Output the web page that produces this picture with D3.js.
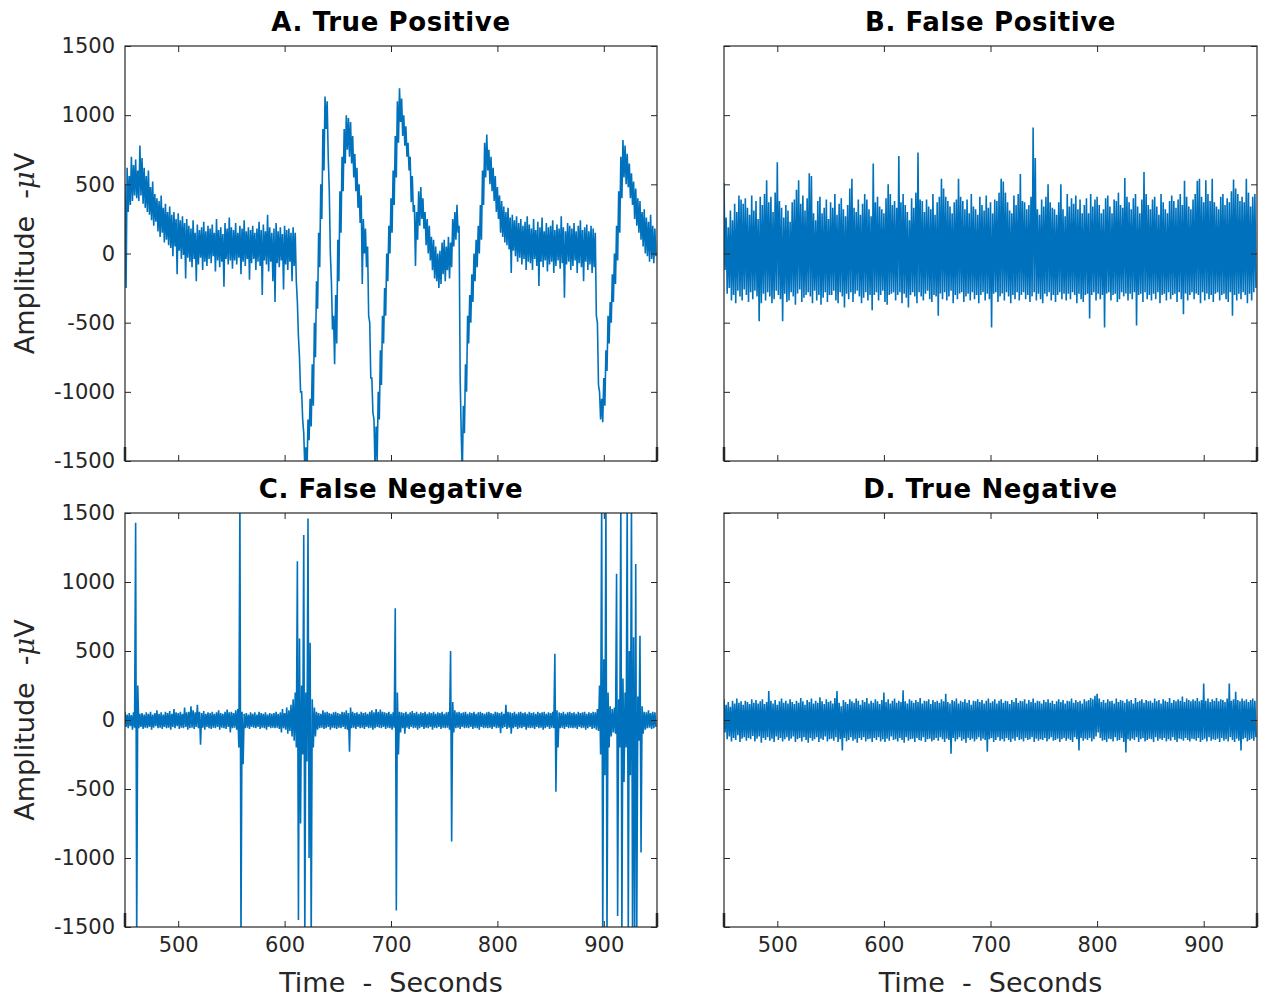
<!DOCTYPE html>
<html>
<head>
<meta charset="utf-8">
<script src="https://cdn.jsdelivr.net/npm/d3@7/dist/d3.min.js"></script>
<style>
  body { margin: 0; background: #fff; }
  svg text { font-family: "DejaVu Sans", sans-serif; }
</style>
</head>
<body>
<svg id="chart" width="1264" height="1000"></svg>
<script>
// recording window and binning: each bin keeps its max (at bin start) and min (half a bin later)
var startSecond = 450,
    endSecond = 950,
    binSeconds = 2;

var xTicks = [500, 600, 700, 800, 900];
var yTicks = [-1500, -1000, -500, 0, 500, 1000, 1500];
var panelTitles = ['A. True Positive', 'B. False Positive', 'C. False Negative', 'D. True Negative'];
var xLabel = 'Time  -  Seconds';

// A. true positive - bin max / min, µV
var tpHigh = [
  500, 620, 560, 700, 640, 680, 600, 780, 690, 620,
  560, 600, 480, 520, 430, 400, 380, 420, 330, 360,
  300, 340, 280, 300, 250, 290, 240, 270, 220, 250,
  200, 180, 240, 150, 210, 170, 190, 230, 160, 200,
  180, 210, 150, 250, 170, 190, 140, 220, 180, 260,
  190, 170, 220, 150, 200, 180, 240, 160, 190, 170,
  200, 150, 180, 230, 170, 210, 160, 280, 190, 150,
  180, 220, 160, 190, 140, 200, 170, 180, 150, 190,
  150, -350, -750, -1000, -1300, -1400, -1200, -1050, -800, -500,
  -200, 150, 500, 900, 1135, 1100, 450, -200, -450, -300,
  100, 450, 700, 900, 1000, 980, 950, 850, 720, 620,
  500, 420, 250, 180, 50, -500, -900, -1200, -1250, -1000,
  -700, -450, -250, 0, 200, 400, 600, 850, 1100, 1195,
  1120, 1000, 920, 800, 700, 560, 350, 300, 450, 480,
  400, 300, 250, 200, 120, 100, 50, 0, 20, 80,
  100, 50, 120, 80, 250, 300, 353, 200, -1300, -1100,
  -800, -450, -300, -150, 0, 100, 200, 350, 600, 800,
  860, 750, 700, 620, 560, 480, 420, 380, 340, 300,
  330, 260, 280, 240, 270, 220, 250, 200, 230, 270,
  210, 180, 250, 170, 230, 190, 260, 160, 220, 190,
  200, 240, 170, 210, 180, 270, 190, 160, 220, 200,
  180, 220, 160, 200, 240, 170, 190, 210, 160, 200,
  180, 150, -500, -1000, -1050, -900, -700, -450, -350, -150,
  0, 200, 450, 700, 820, 780, 720, 650, 580, 520,
  470, 400, 380, 300, 320, 260, 230, 280, 200, 180
];
var tpLow = [
  -250, 300, 350, 380, 420, 400, 380, 420, 360, 330,
  300, 280, 240, 200, 230, 160, 120, 150, 80, 100,
  60, 40, -20, 50, -150, 20, -40, -10, -180, -30,
  -60, -100, -40, -200, -80, -30, -120, -60, -90, -40,
  -70, -20, -130, -50, -100, -60, -240, -40, -80, -50,
  -110, -50, -80, -30, -150, -60, -90, -40, -190, -70,
  -40, -120, -60, -90, -300, -50, -80, -130, -60, -200,
  -350, -70, -100, -50, -260, -80, -120, -60, -200, -90,
  -200, -600, -1000, -1200, -1550, -1600, -1350, -1250, -1100, -750,
  -400, -100, 250, 600, 900, 700, 0, -550, -800, -650,
  -200, 150, 450, 650, 750, 700, 650, 550, 450, 330,
  220, -220, 0, -100, -450, -900, -1150, -1550, -1500, -1200,
  -950, -650, -450, -200, 0, 150, 350, 550, 800, 950,
  850, 780, 700, 600, 370, 300, -90, 100, 200, 250,
  180, 60, 0, -50, -120, -180, -200, -250, -220, -150,
  -200, -120, -180, -100, 50, 100, 150, -900, -1600, -1300,
  -1000, -650, -500, -350, -200, -100, 0, 100, 350, 550,
  600, 500, 450, 380, 300, 250, 150, 120, 80, 60,
  30, -140, 20, -20, -60, -30, -80, -40, -120, -60,
  -70, -120, -40, -90, -235, -60, -100, -50, -130, -80,
  -60, -140, -90, -50, -110, -70, -320, -80, -60, -120,
  -90, -50, -140, -70, -100, -200, -60, -120, -80, -140,
  -100, -450, -950, -1200, -1220, -1100, -850, -650, -500, -350,
  -220, -50, 150, 400, 550, 500, 480, 400, 350, 250,
  200, 150, 100, 50, 0, -20, -60, -40, -70, -20
];

// B. false positive
var fpHigh = [
  510, 260, 190, 310, 240, 360, 300, 420, 390, 360,
  400, 330, 280, 420, 310, 380, 250, 410, 350, 430,
  530, 370, 410, 300, 440, 660, 380, 330, 260, 350,
  310, 230, 370, 390, 460, 530, 360, 420, 310, 400,
  580, 560, 290, 240, 380, 410, 290, 330, 390, 250,
  370, 330, 430, 280, 360, 400, 320, 270, 350, 470,
  540, 330, 300, 390, 280, 360, 430, 390, 320, 270,
  650, 370, 410, 340, 320, 290, 400, 500, 430, 350,
  380, 330, 705, 370, 430, 350, 300, 240, 400, 330,
  440, 730, 390, 380, 300, 390, 340, 320, 430, 280,
  370, 410, 540, 470, 410, 380, 340, 290, 370, 390,
  540, 410, 380, 320, 390, 290, 430, 340, 320, 280,
  410, 350, 310, 420, 330, 370, 290, 390, 380, 440,
  540, 520, 440, 370, 310, 290, 420, 350, 430, 575,
  380, 370, 320, 350, 410, 910, 690, 320, 280, 390,
  340, 410, 500, 370, 330, 320, 280, 370, 500, 320,
  270, 430, 340, 400, 360, 420, 320, 390, 290, 350,
  400, 290, 430, 340, 390, 410, 350, 290, 320, 400,
  420, 340, 290, 390, 380, 440, 350, 330, 545, 410,
  370, 320, 400, 430, 340, 290, 390, 590, 430, 350,
  320, 390, 410, 340, 280, 430, 370, 320, 290, 380,
  420, 380, 330, 390, 430, 350, 525, 410, 340, 320,
  390, 430, 525, 540, 410, 370, 530, 430, 380, 540,
  370, 340, 320, 410, 430, 350, 400, 370, 450, 535,
  470, 430, 380, 410, 370, 540, 440, 340, 410, 430
];
var fpLow = [
  -120, -290, -250, -340, -300, -360, -270, -310, -340, -260,
  -300, -350, -280, -330, -270, -310, -490, -360, -290, -340,
  -280, -310, -360, -330, -270, -300, -330, -490, -290, -350,
  -340, -280, -310, -370, -290, -260, -350, -320, -300, -280,
  -310, -360, -270, -340, -300, -370, -320, -280, -350, -300,
  -300, -270, -340, -360, -280, -310, -390, -290, -330, -280,
  -350, -290, -270, -310, -360, -320, -280, -340, -300, -410,
  -300, -280, -340, -300, -270, -350, -370, -300, -290, -280,
  -340, -300, -280, -360, -290, -320, -390, -300, -280, -310,
  -360, -280, -310, -340, -290, -270, -330, -350, -300, -310,
  -450, -290, -330, -280, -340, -310, -270, -360, -300, -330,
  -290, -280, -350, -310, -290, -340, -280, -330, -300, -360,
  -300, -280, -340, -290, -330, -535, -290, -280, -350, -310,
  -290, -340, -280, -310, -360, -300, -330, -280, -340, -300,
  -280, -330, -300, -350, -310, -280, -340, -290, -330, -360,
  -290, -310, -280, -340, -300, -350, -300, -280, -330, -290,
  -340, -290, -330, -280, -300, -360, -290, -330, -350, -300,
  -290, -470, -300, -280, -340, -290, -330, -300, -535, -290,
  -280, -340, -300, -290, -350, -330, -280, -310, -290, -340,
  -290, -330, -280, -520, -300, -290, -350, -280, -330, -300,
  -340, -290, -330, -280, -360, -300, -290, -340, -280, -330,
  -300, -290, -350, -280, -330, -440, -290, -340, -300, -280,
  -330, -290, -300, -360, -280, -340, -290, -330, -300, -350,
  -290, -280, -340, -300, -290, -330, -350, -280, -450, -300,
  -340, -290, -330, -280, -300, -360, -290, -340, -280, -250
];

// C. false negative
var fnHigh = [
  60, 40, 50, 35, 55, 1430, 250, 45, 50, 40,
  55, 45, 60, 40, 50, 70, 45, 55, 40, 60,
  50, 65, 45, 80, 55, 50, 60, 45, 90, 55,
  60, 100, 70, 55, 110, 60, 50, 65, 45, 55,
  50, 60, 45, 55, 70, 50, 45, 60, 75, 55,
  60, 50, 70, 80, 1600, 60, 45, 50, 40, 55,
  45, 55, 40, 60, 50, 45, 55, 40, 50, 45,
  50, 60, 45, 55, 80, 50, 90, 70, 110, 150,
  200, 1150, 590, 250, 1340, 200, 1460, 560, 150, 90,
  60, 50, 45, 70, 55, 60, 50, 45, 55, 60,
  50, 45, 60, 55, 70, 50, 90, 60, 50, 55,
  45, 60, 50, 55, 45, 60, 70, 55, 80, 60,
  75, 60, 55, 50, 60, 45, 55, 810, 200, 60,
  55, 50, 60, 45, 55, 65, 50, 60, 45, 55,
  50, 60, 45, 55, 50, 60, 45, 55, 50, 60,
  45, 55, 60, 500, 130, 70, 55, 60, 50, 55,
  60, 45, 55, 50, 60, 45, 55, 60, 50, 45,
  55, 60, 50, 45, 60, 55, 50, 60, 45, 110,
  60, 55, 50, 60, 45, 55, 60, 50, 55, 45,
  60, 50, 55, 45, 60, 50, 55, 60, 45, 55,
  50, 60, 480, 70, 55, 50, 60, 45, 55, 60,
  50, 55, 45, 60, 50, 55, 60, 45, 55, 50,
  60, 55, 80, 250, 1600, 440, 1600, 200, 100, 80,
  90, 1060, 150, 1600, 300, 200, 1600, 500, 1600, 600,
  1130, 170, 610, 100, 60, 55, 70, 50, 60, 55
];
var fnLow = [
  -50, -60, -45, -70, -55, -1600, -60, -50, -65, -55,
  -60, -50, -70, -55, -45, -60, -55, -65, -50, -60,
  -55, -70, -50, -60, -45, -65, -55, -60, -50, -70,
  -60, -55, -65, -50, -60, -180, -55, -70, -50, -60,
  -65, -55, -60, -50, -70, -55, -60, -65, -50, -90,
  -60, -55, -70, -200, -1600, -320, -60, -55, -65, -50,
  -55, -60, -50, -65, -55, -60, -70, -50, -60, -55,
  -60, -55, -65, -90, -60, -70, -100, -80, -120, -150,
  -200, -1450, -750, -250, -1600, -300, -1000, -1600, -200, -120,
  -70, -60, -55, -65, -60, -50, -70, -55, -60, -65,
  -55, -60, -50, -65, -70, -230, -60, -55, -65, -50,
  -60, -55, -65, -50, -60, -55, -70, -60, -50, -55,
  -60, -50, -65, -55, -60, -70, -55, -1380, -250, -90,
  -60, -100, -55, -65, -50, -60, -55, -70, -60, -50,
  -65, -55, -60, -50, -70, -55, -60, -50, -65, -55,
  -60, -55, -70, -880, -90, -60, -55, -65, -50, -60,
  -55, -60, -50, -65, -55, -60, -70, -50, -60, -55,
  -60, -55, -65, -50, -60, -55, -95, -60, -50, -65,
  -55, -100, -60, -50, -65, -55, -60, -50, -70, -55,
  -60, -55, -65, -50, -60, -55, -70, -60, -50, -65,
  -55, -60, -520, -200, -60, -55, -65, -50, -60, -55,
  -60, -55, -65, -50, -60, -55, -70, -60, -50, -65,
  -60, -70, -80, -250, -1600, -400, -1600, -200, -120, -90,
  -100, -1420, -200, -1600, -450, -200, -1600, -400, -1600, -1600,
  -1500, -150, -960, -100, -70, -60, -55, -65, -60, -50
];

// D. true negative
var tnHigh = [
  150, 110, 130, 95, 140, 120, 155, 125, 135, 110,
  140, 130, 115, 150, 125, 145, 120, 135, 150, 115,
  130, 210, 140, 120, 145, 110, 135, 155, 125, 140,
  120, 150, 130, 115, 140, 125, 160, 135, 110, 145,
  130, 155, 120, 140, 125, 165, 135, 115, 150, 130,
  140, 120, 160, 210, 125, 100, 145, 130, 115, 150,
  135, 125, 155, 140, 110, 145, 130, 160, 120, 140,
  125, 150, 135, 115, 145, 200, 130, 150, 120, 140,
  155, 125, 140, 130, 215, 135, 120, 150, 140, 125,
  145, 130, 160, 120, 140, 135, 150, 115, 145, 130,
  140, 125, 150, 135, 190, 130, 120, 145, 135, 155,
  120, 140, 130, 150, 125, 145, 110, 140, 135, 150,
  130, 145, 120, 140, 155, 125, 135, 150, 120, 140,
  150, 125, 140, 135, 115, 145, 130, 160, 125, 140,
  135, 150, 120, 145, 130, 155, 125, 140, 135, 120,
  145, 130, 150, 125, 140, 115, 135, 150, 130, 145,
  120, 140, 135, 155, 125, 145, 130, 140, 120, 150,
  135, 145, 160, 150, 175, 190, 155, 130, 145, 125,
  150, 135, 140, 120, 155, 130, 145, 140, 125, 150,
  135, 145, 120, 160, 130, 140, 150, 125, 145, 135,
  140, 125, 155, 135, 145, 120, 150, 140, 130, 160,
  125, 145, 135, 150, 140, 170, 130, 155, 145, 135,
  150, 140, 160, 135, 145, 265, 140, 155, 130, 150,
  140, 160, 135, 150, 145, 130, 155, 265, 140, 150,
  205, 145, 135, 155, 140, 150, 130, 145, 155, 140
];
var tnLow = [
  -90, -140, -120, -155, -130, -145, -110, -160, -135, -125,
  -150, -130, -140, -115, -155, -135, -120, -165, -130, -145,
  -125, -150, -135, -160, -120, -145, -130, -155, -140, -125,
  -150, -135, -120, -160, -140, -130, -155, -125, -145, -165,
  -130, -150, -140, -125, -160, -135, -145, -120, -155, -140,
  -135, -150, -125, -160, -140, -220, -130, -155, -145, -125,
  -150, -140, -165, -130, -145, -125, -155, -140, -135, -160,
  -130, -145, -125, -155, -140, -160, -135, -150, -120, -145,
  -140, -155, -130, -145, -165, -125, -150, -140, -135, -160,
  -130, -145, -150, -125, -160, -140, -135, -155, -145, -130,
  -150, -125, -140, -160, -135, -145, -245, -130, -155, -140,
  -125, -150, -140, -165, -130, -145, -135, -155, -140, -125,
  -150, -135, -145, -230, -140, -130, -160, -145, -125, -150,
  -140, -155, -130, -145, -160, -135, -150, -125, -145, -140,
  -155, -130, -145, -140, -125, -160, -135, -150, -140, -145,
  -130, -155, -140, -125, -150, -145, -135, -160, -140, -130,
  -150, -135, -145, -160, -125, -140, -220, -130, -150, -135,
  -145, -130, -155, -140, -120, -90, -130, -150, -145, -160,
  -135, -140, -155, -125, -150, -145, -130, -160, -235, -140,
  -150, -135, -145, -125, -160, -140, -130, -155, -145, -135,
  -140, -160, -125, -150, -135, -145, -130, -155, -140, -150,
  -125, -145, -160, -135, -140, -150, -130, -145, -155, -135,
  -140, -150, -130, -160, -145, -135, -155, -125, -150, -140,
  -145, -135, -160, -130, -150, -140, -155, -125, -145, -160,
  -135, -150, -220, -140, -130, -155, -145, -135, -150, -125
];

var axisColor = '#262626',
    lineColor = '#0072BD',
    tickLength = 6;

var panels = [
  { title: panelTitles[0], high: tpHigh, low: tpLow, left: 125, right: 657, top: 46, bottom: 461, yLabels: true,  xLabels: false },
  { title: panelTitles[1], high: fpHigh, low: fpLow, left: 724, right: 1257, top: 46, bottom: 461, yLabels: false, xLabels: false },
  { title: panelTitles[2], high: fnHigh, low: fnLow, left: 125, right: 657, top: 513, bottom: 927, yLabels: true,  xLabels: true },
  { title: panelTitles[3], high: tnHigh, low: tnLow, left: 724, right: 1257, top: 513, bottom: 927, yLabels: false, xLabels: true }
];

var svg = d3.select('#chart');
var defs = svg.append('defs');
var plainNumber = function(d) { return String(d); };   // hyphen minus, no thousands comma

panels.forEach(drawPanel);

function drawPanel(p, idx) {
  var x = d3.scaleLinear().domain([startSecond, endSecond]).range([p.left, p.right]),
      y = d3.scaleLinear().domain([yTicks[0], yTicks[yTicks.length - 1]]).range([p.bottom, p.top]),
      g = svg.append('g').attr('class', 'panel');

  defs.append('clipPath')
      .attr('id', 'clip' + idx)
    .append('rect')
      .attr('x', p.left)
      .attr('y', p.top)
      .attr('width', p.right - p.left)
      .attr('height', p.bottom - p.top);

  // interleave max / min of each bin into one trace
  var samples = [];
  p.high.forEach(function(h, i) {
    var t = startSecond + i * binSeconds;
    samples.push([t, h]);
    samples.push([t + binSeconds / 2, p.low[i]]);
  });

  var line = d3.line()
      .x(function(d) { return x(d[0]); })
      .y(function(d) { return y(d[1]); });

  g.append('path')
      .attr('clip-path', 'url(#clip' + idx + ')')
      .attr('d', line(samples))
      .attr('fill', 'none')
      .attr('stroke', lineColor)
      .attr('stroke-width', 1.6)
      .attr('stroke-linejoin', 'miter')
      .attr('stroke-miterlimit', 2);

  // axes, ticks pointing inwards on all four sides
  var bottomAxis = d3.axisBottom(x).tickValues(xTicks).tickSizeInner(-tickLength).tickSizeOuter(0).tickPadding(10).tickFormat(plainNumber),
      topAxis = d3.axisTop(x).tickValues(xTicks).tickSizeInner(-tickLength).tickSizeOuter(0).tickFormat(''),
      leftAxis = d3.axisLeft(y).tickValues(yTicks).tickSizeInner(-tickLength).tickSizeOuter(0).tickPadding(10).tickFormat(plainNumber),
      rightAxis = d3.axisRight(y).tickValues(yTicks).tickSizeInner(-tickLength).tickSizeOuter(0).tickFormat('');

  if (!p.xLabels) bottomAxis.tickFormat('');
  if (!p.yLabels) leftAxis.tickFormat('');

  var axes = [
    g.append('g').attr('transform', 'translate(0,' + p.bottom + ')').call(bottomAxis),
    g.append('g').attr('transform', 'translate(0,' + p.top + ')').call(topAxis),
    g.append('g').attr('transform', 'translate(' + p.left + ',0)').call(leftAxis),
    g.append('g').attr('transform', 'translate(' + p.right + ',0)').call(rightAxis)
  ];
  axes.forEach(function(a) {
    a.select('.domain').remove();
    a.selectAll('.tick line').attr('stroke', axisColor).attr('stroke-width', 1);
    a.selectAll('.tick text')
        .attr('fill', axisColor)
        .style('font-size', '21px')
        .style('font-family', '"DejaVu Sans", sans-serif');
  });

  g.append('rect')
      .attr('x', p.left)
      .attr('y', p.top)
      .attr('width', p.right - p.left)
      .attr('height', p.bottom - p.top)
      .attr('fill', 'none')
      .attr('stroke', axisColor)
      .attr('stroke-width', 1.2);

  // small heavy marks at the lower corners
  [p.left, p.right].forEach(function(cx) {
    g.append('line')
        .attr('x1', cx).attr('x2', cx)
        .attr('y1', p.bottom - 14).attr('y2', p.bottom)
        .attr('stroke', axisColor)
        .attr('stroke-width', 2.5);
  });

  g.append('text')
      .attr('x', (p.left + p.right) / 2)
      .attr('y', p.top - 15)
      .attr('text-anchor', 'middle')
      .style('font-size', '26px')
      .style('font-weight', 'bold')
      .style('letter-spacing', '0.6px')
      .attr('fill', '#000')
      .text(p.title);

  if (p.yLabels) {
    var yl = g.append('text')
        .attr('transform', 'translate(34,' + (p.top + p.bottom) / 2 + ') rotate(-90)')
        .attr('text-anchor', 'middle')
        .attr('fill', axisColor)
        .style('font-size', '27px')
        .style('white-space', 'pre');
    yl.append('tspan').text('Amplitude  -');
    yl.append('tspan').style('font-style', 'italic').style('font-family', '"DejaVu Serif", serif').text('\u03BC');
    yl.append('tspan').text('V');
  }

  if (p.xLabels) {
    g.append('text')
        .attr('x', (p.left + p.right) / 2)
        .attr('y', p.bottom + 65)
        .attr('text-anchor', 'middle')
        .attr('fill', axisColor)
        .style('font-size', '27px')
        .style('white-space', 'pre')
        .text(xLabel);
  }
}
</script>
</body>
</html>
